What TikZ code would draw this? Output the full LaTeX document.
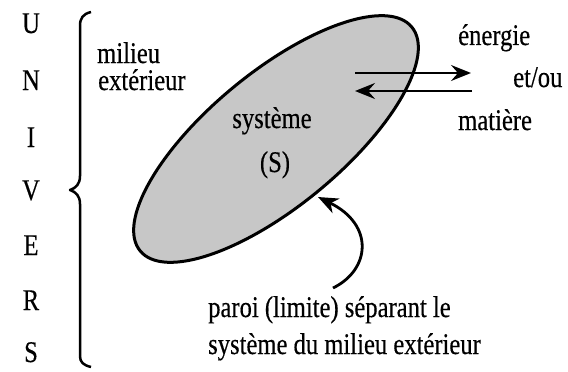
\documentclass[tikz,border=0pt]{standalone}
\usepackage{fontspec}
\setmainfont{Liberation Serif}
\newfontfamily\condfont[FakeStretch=0.82,FakeBold=0.4]{Liberation Serif}
\usetikzlibrary{arrows.meta}
\begin{document}
\begin{tikzpicture}[x=1pt,y=-1pt,
  txt/.style={inner sep=0pt,font=\condfont\fontsize{30}{34}\selectfont},
  flux/.style={line width=2.4pt,-{Stealth[length=20pt,width=16pt,inset=7pt]}},
  wall/.style={line width=3pt,draw=black,fill=black!22}]
\useasboundingbox (0,0) rectangle (568,372);
% system
\draw[wall] (276,139) ellipse[x radius=176,y radius=67,rotate=39.5];
\coordinate (S) at (276,139);
\coordinate (wallpt) at (318,197);
% UNIVERS
\foreach \l/\y [count=\i] in {U/33,N/90,I/147,V/200,E/255,R/310,S/362}
  \node[txt,anchor=base] (u\i) at (31,\y) {\l};
% brace
\draw[line width=2.5pt,line join=round] (91,12) .. controls (83,14) and (80,18) .. (80,26)
  -- (80,176) .. controls (80,184) and (76,188) .. (70,190)
  .. controls (76,192) and (80,196) .. (80,204) -- (80,356)
  .. controls (80,362) and (83,365) .. (91,367);
% texts
\node[txt,anchor=base west] (mil1) at (97,63) {milieu};
\node[txt,anchor=base west] (mil2) at (98,90) {extérieur};
\node[txt,anchor=base] (sys) at (272,128) {système};
\node[txt,anchor=base] (ss) at (275,172) {(S)};
\node[txt,anchor=base west] (en) at (458,45) {énergie};
\node[txt,anchor=base west] (et) at (513,87) {et/ou};
\node[txt,anchor=base west] (ma) at (458,130) {matière};
\node[txt,anchor=base west] (par1) at (208,317) {paroi (limite) séparant le};
\node[txt,anchor=base west] (par2) at (208,354) {système du milieu extérieur};
% exchange arrows
\coordinate (a1s) at (355,73); \coordinate (a1e) at (471,73);
\coordinate (a2s) at (472,91); \coordinate (a2e) at (355,91);
\draw[flux] (a1s) -- (a1e);
\draw[flux] (a2s) -- (a2e);
% curved arrow
\coordinate (cs) at (333,288);
\draw[line width=2.8pt,-{Stealth[length=20pt,width=16pt,inset=6pt]}]
  (cs) .. controls (370,270) and (375,225) .. (wallpt);
\end{tikzpicture}
\end{document}
